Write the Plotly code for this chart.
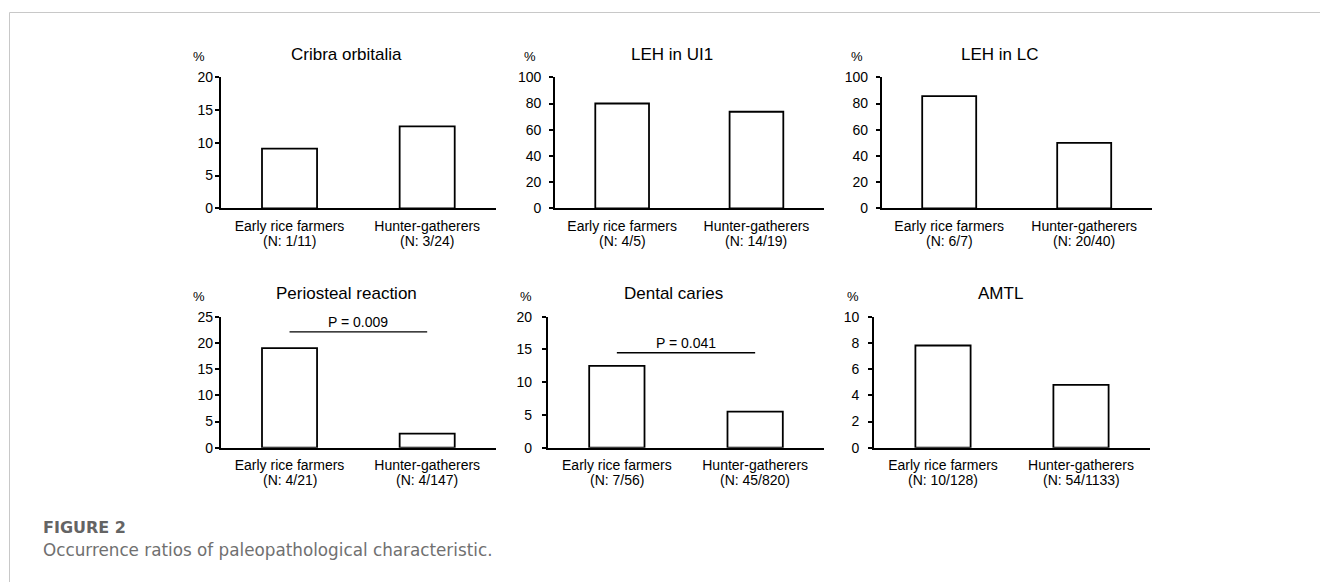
import plotly.graph_objects as go

W, H = 1320, 582

groups = ["Early rice farmers", "Hunter-gatherers"]
titles = ["Cribra orbitalia", "LEH in UI1", "LEH in LC",
          "Periosteal reaction", "Dental caries", "AMTL"]
cribra = [9.1, 12.5]
leh_ui1 = [80.0, 73.7]
leh_lc = [85.7, 50.0]
periosteal = [19.0, 2.7]
caries = [12.5, 5.5]
amtl = [7.8, 4.8]
n_cribra = ["1/11", "3/24"]
n_leh_ui1 = ["4/5", "14/19"]
n_leh_lc = ["6/7", "20/40"]
n_periosteal = ["4/21", "4/147"]
n_caries = ["7/56", "45/820"]
n_amtl = ["10/128", "54/1133"]
y_max = [20, 100, 100, 25, 20, 10]
y_dtick = [5, 20, 20, 5, 5, 2]
p_texts = [None, None, None, "P = 0.009", "P = 0.041", None]
p_line_y = [None, None, None, 22.1, 14.5, None]
p_text_y = [None, None, None, 24.0, 16.0, None]

values = [cribra, leh_ui1, leh_lc, periosteal, caries, amtl]
ns = [n_cribra, n_leh_ui1, n_leh_lc, n_periosteal, n_caries, n_amtl]

# layout in pixels
x_dom_px = [(220.7, 496), (555, 823.6), (881.7, 1151.7),
            (220.7, 496), (547.7, 824.3), (874, 1150)]
y_dom_px = [(77.3, 208.3)] * 3 + [(316.7, 447.7)] * 3
title_x_px = [346, 672, 999, 346, 673, 1000]
pct_x_px = [199, 530, 857, 199, 526, 853]
standoff = [-1, 5, 5, -1, 7, 6]

FONT = "Arial, Liberation Sans, sans-serif"

fig = go.Figure()
annotations = []
shapes = []
layout = dict(width=W, height=H, margin=dict(l=0, r=0, t=0, b=0, pad=0),
              paper_bgcolor="white", plot_bgcolor="white", showlegend=False,
              font=dict(family=FONT, color="black"))

for i in range(6):
    ax = "" if i == 0 else str(i + 1)
    xa, ya = "x" + ax, "y" + ax
    fig.add_trace(go.Bar(
        x=[0, 1], y=values[i], xaxis=xa, yaxis=ya, width=0.4,
        marker=dict(color="white", line=dict(color="black", width=1.8)),
        hoverinfo="skip"))
    x0, x1 = x_dom_px[i]
    yt, yb = y_dom_px[i]
    layout["xaxis" + ax] = dict(
        domain=[x0 / W, x1 / W], anchor=ya, range=[-0.5, 1.5],
        tickvals=[0, 1], ticktext=groups, ticklabelstandoff=4,
        showline=True, linecolor="black", linewidth=1.8, ticks="",
        showgrid=False, zeroline=False, fixedrange=True, automargin=False,
        tickfont=dict(size=14, family=FONT, color="black"))
    layout["yaxis" + ax] = dict(
        domain=[1 - yb / H, 1 - yt / H], anchor=xa, range=[0, y_max[i]],
        dtick=y_dtick[i], showline=True, linecolor="black", linewidth=1.8,
        ticks="outside", ticklen=4, tickwidth=1.6, tickcolor="black",
        ticklabelstandoff=standoff[i],
        showgrid=False, zeroline=False, fixedrange=True, automargin=False,
        tickfont=dict(size=14, family=FONT, color="black"))
    # sample sizes under the group labels
    for k in range(2):
        annotations.append(dict(text=f"(N: {ns[i][k]})", x=k, xref=xa,
                                y=1 - (yb + 32.4) / H, yref="paper",
                                showarrow=False, xanchor="center", yanchor="middle",
                                font=dict(size=14, family=FONT, color="black")))
    annotations.append(dict(text=titles[i], x=title_x_px[i] / W,
                            y=1 - (yt - 23) / H, xref="paper", yref="paper",
                            showarrow=False, xanchor="center", yanchor="middle",
                            font=dict(size=17, family=FONT, color="black")))
    annotations.append(dict(text="%", x=pct_x_px[i] / W,
                            y=1 - (yt - 20.6) / H, xref="paper", yref="paper",
                            showarrow=False, xanchor="center", yanchor="middle",
                            font=dict(size=13, family=FONT, color="black")))
    if p_texts[i]:
        shapes.append(dict(type="line", xref=xa, yref=ya, x0=0, x1=1,
                           y0=p_line_y[i], y1=p_line_y[i],
                           line=dict(color="black", width=1.4)))
        annotations.append(dict(text=p_texts[i], x=0.5, y=p_text_y[i],
                                xref=xa, yref=ya, showarrow=False,
                                xanchor="center", yanchor="middle",
                                font=dict(size=14, family=FONT, color="black")))

# frame lines
shapes.append(dict(type="line", xref="paper", yref="paper",
                   x0=9.5 / W, x1=1, y0=1 - 12.5 / H, y1=1 - 12.5 / H,
                   line=dict(color="#c8c8c8", width=1)))
shapes.append(dict(type="line", xref="paper", yref="paper",
                   x0=9.5 / W, x1=9.5 / W, y0=0, y1=1 - 12.5 / H,
                   line=dict(color="#c8c8c8", width=1)))

annotations.append(dict(text="<b>FIGURE 2</b>", x=41 / W, y=1 - 527 / H,
                        xref="paper", yref="paper", showarrow=False,
                        xanchor="left", yanchor="middle",
                        font=dict(size=16, family="DejaVu Sans, sans-serif", color="#646464")))
annotations.append(dict(text="Occurrence ratios of paleopathological characteristic.",
                        x=41 / W, y=1 - 550 / H,
                        xref="paper", yref="paper", showarrow=False,
                        xanchor="left", yanchor="middle",
                        font=dict(size=16.8, family="DejaVu Sans, sans-serif", color="#707070")))

layout["annotations"] = annotations
layout["shapes"] = shapes
fig.update_layout(**layout)
fig.write_html("out.html", config={"displayModeBar": False},
               post_script="document.body.style.margin='0px';document.body.style.overflow='hidden';")
